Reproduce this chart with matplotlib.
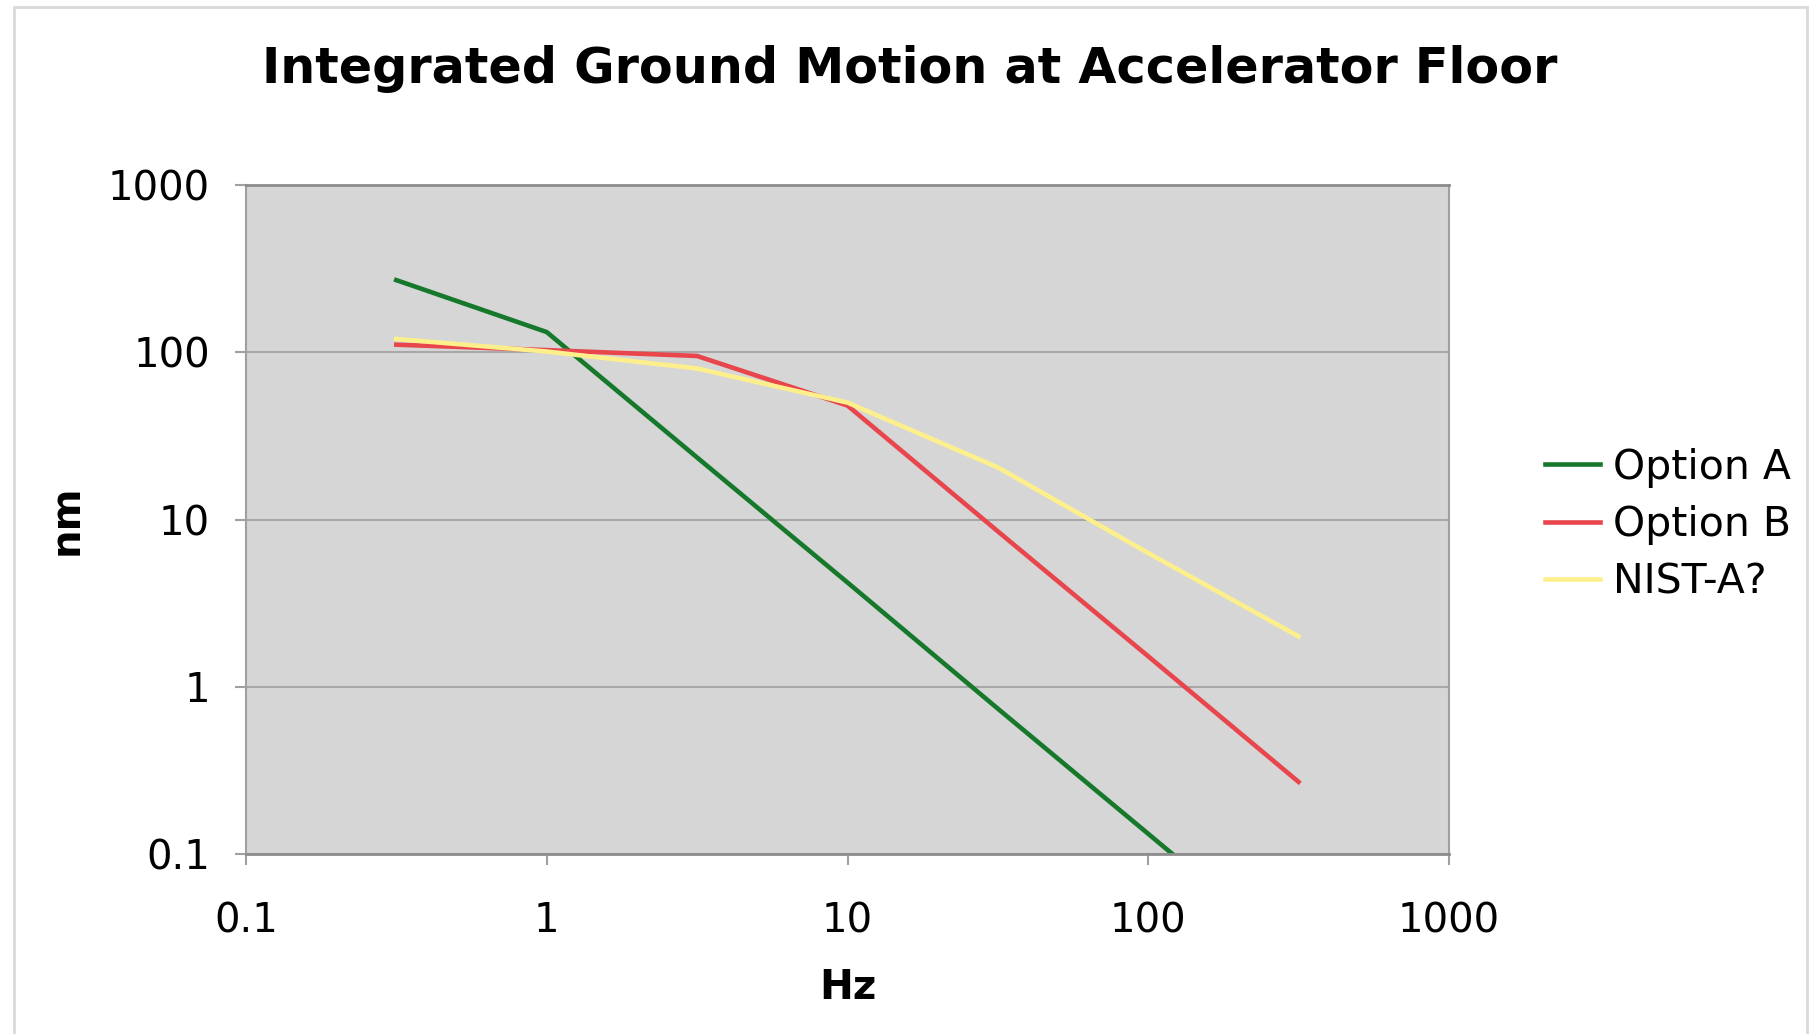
import matplotlib.pyplot as plt
from matplotlib.patches import Rectangle

# Данные
freq = [0.316, 1, 3.16, 10, 31.6, 100, 316]
option_a = [270, 132, 23.5, 4.2, 0.74, 0.132, 0.0235]
option_b = [111, 103, 95, 48, 8.5, 1.52, 0.27]
nist_a = [120, 101, 80, 50, 20.5, 6.3, 2.0]
series_names = ['Option A', 'Option B', 'NIST-A?']

W, H = 1814, 1034
fig = plt.figure(figsize=(W / 100, H / 100), dpi=100)
plt.rcParams['font.family'] = ['DejaVu Sans']

# рамка вокруг всего графика
fig.patches.append(Rectangle((14 / W, -0.01), (1807 - 14) / W, 1 - 7 / H + 0.01,
                             transform=fig.transFigure, fill=False,
                             edgecolor='#d9d9d9', linewidth=2))

ax = fig.add_axes([246 / W, 1 - 854 / H, (1449 - 246) / W, (854 - 185) / H])
ax.set_facecolor('#d6d6d6')

ax.plot(freq, option_a, color='#16782a', lw=3.3, label=series_names[0])
ax.plot(freq, option_b, color='#e8464c', lw=3.3, label=series_names[1])
ax.plot(freq, nist_a, color='#fdf08c', lw=3.3, label=series_names[2])

ax.set_xscale('log')
ax.set_yscale('log')
ax.set_xlim(0.1, 1000)
ax.set_ylim(0.1, 1000)
ticks = [0.1, 1, 10, 100, 1000]
labels = ['0.1', '1', '10', '100', '1000']
ax.set_xticks(ticks)
ax.set_xticklabels(labels)
ax.set_yticks(ticks)
ax.set_yticklabels(labels)
ax.minorticks_off()
ax.tick_params(axis='x', length=8, width=1.5, color='#a0a0a0', pad=26, labelsize=29)
ax.tick_params(axis='y', length=8, width=1.5, color='#a0a0a0', pad=18, labelsize=29)
ax.yaxis.grid(True, color='#a8a8a8', lw=1.5)
ax.set_axisbelow(True)
for side in ['left', 'right']:
    ax.spines[side].set_color('#a0a0a0')
    ax.spines[side].set_linewidth(1.5)
for side in ['top', 'bottom']:
    ax.spines[side].set_color('#8c8c8c')
    ax.spines[side].set_linewidth(2)

ax.set_xlabel('Hz', fontsize=29, fontweight='bold', labelpad=19)
ax.set_ylabel('nm', fontsize=29, fontweight='bold', labelpad=15)
fig.text((222 + 1350) / 2 / 1568, 1 - 69 / H,
         'Integrated Ground Motion at Accelerator Floor',
         fontsize=35.5, fontweight='bold', ha='center', va='center')

fig.legend(loc='center left', bbox_to_anchor=(1545 / W, 1 - 525 / H), frameon=False,
           fontsize=29.5, handlelength=1.35, handletextpad=0.3, labelspacing=0.42,
           borderaxespad=0, borderpad=0)

fig.savefig('out.png', dpi=100)
